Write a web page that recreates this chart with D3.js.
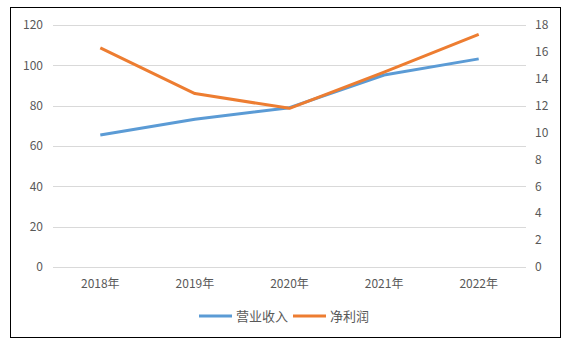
<html>
<head>
<meta charset="utf-8">
<script src="https://d3js.org/d3.v7.min.js"></script>
<style>
  body { margin:0; background:#fff; }
  text { font-family: "Noto Sans CJK SC", "Noto Sans", sans-serif; fill:#595959; font-size:12px; }
  .legend text { font-size:13px; }
</style>
</head>
<body>
<svg id="MAINSVG" width="568" height="344"></svg>
<script>
var years = ["2018年","2019年","2020年","2021年","2022年"];
var revenue = [65.5, 73.3, 79, 95.2, 103.2];
var profit = [16.3, 12.9, 11.8, 14.5, 17.3];
var leftTicks = [0,20,40,60,80,100,120];
var rightTicks = [0,2,4,6,8,10,12,14,16,18];
var seriesNames = ["营业收入","净利润"];
var colors = ["#5B9BD5","#ED7D31"];

var SVG = d3.select("#MAINSVG");

// outer frame
SVG.append("rect")
   .attr("x",10.5).attr("y",7.5)
   .attr("width",550).attr("height",330)
   .attr("fill","none").attr("stroke","#000").attr("stroke-width",1);

var x = d3.scaleBand().domain(years).range([53,526]);
var yL = d3.scaleLinear().domain([0,120]).range([267,25]);
var yR = d3.scaleLinear().domain([0,18]).range([267,25]);

// gridlines
SVG.append("g").selectAll("line").data(leftTicks).enter().append("line")
   .attr("x1",53).attr("x2",526)
   .attr("y1",function(d){return Math.round(yL(d))+0.5;})
   .attr("y2",function(d){return Math.round(yL(d))+0.5;})
   .attr("stroke","#d9d9d9").attr("stroke-width",1);

// left axis labels
SVG.append("g").selectAll("text").data(leftTicks).enter().append("text")
   .attr("x",43).attr("y",function(d){return yL(d);})
   .attr("dy","0.35em").attr("text-anchor","end")
   .text(function(d){return d;});

// right axis labels
SVG.append("g").selectAll("text").data(rightTicks).enter().append("text")
   .attr("x",535).attr("y",function(d){return yR(d);})
   .attr("dy","0.35em").attr("text-anchor","start")
   .text(function(d){return d;});

// category labels
SVG.append("g").selectAll("text").data(years).enter().append("text")
   .attr("x",function(d){return x(d)+x.bandwidth()/2;})
   .attr("y",284).attr("dy","0.35em").attr("text-anchor","middle")
   .text(function(d){return d;});

var lineL = d3.line()
   .x(function(d,i){return x(years[i])+x.bandwidth()/2;})
   .y(function(d){return yL(d);});
var lineR = d3.line()
   .x(function(d,i){return x(years[i])+x.bandwidth()/2;})
   .y(function(d){return yR(d);});

SVG.append("path").datum(revenue).attr("d",lineL)
   .attr("fill","none").attr("stroke",colors[0]).attr("stroke-width",3).attr("stroke-linejoin","round");
SVG.append("path").datum(profit).attr("d",lineR)
   .attr("fill","none").attr("stroke",colors[1]).attr("stroke-width",3).attr("stroke-linejoin","round");

// legend
var legendX = [199, 293];
seriesNames.forEach(function(name,i){
  var g = SVG.append("g").attr("class","legend").attr("transform","translate("+legendX[i]+",316)");
  g.append("line").attr("x1",0).attr("x2",33).attr("y1",0).attr("y2",0)
   .attr("stroke",colors[i]).attr("stroke-width",3);
  g.append("text").attr("x",37).attr("y",0).attr("dy","0.35em").text(name);
});
</script>
</body>
</html>
